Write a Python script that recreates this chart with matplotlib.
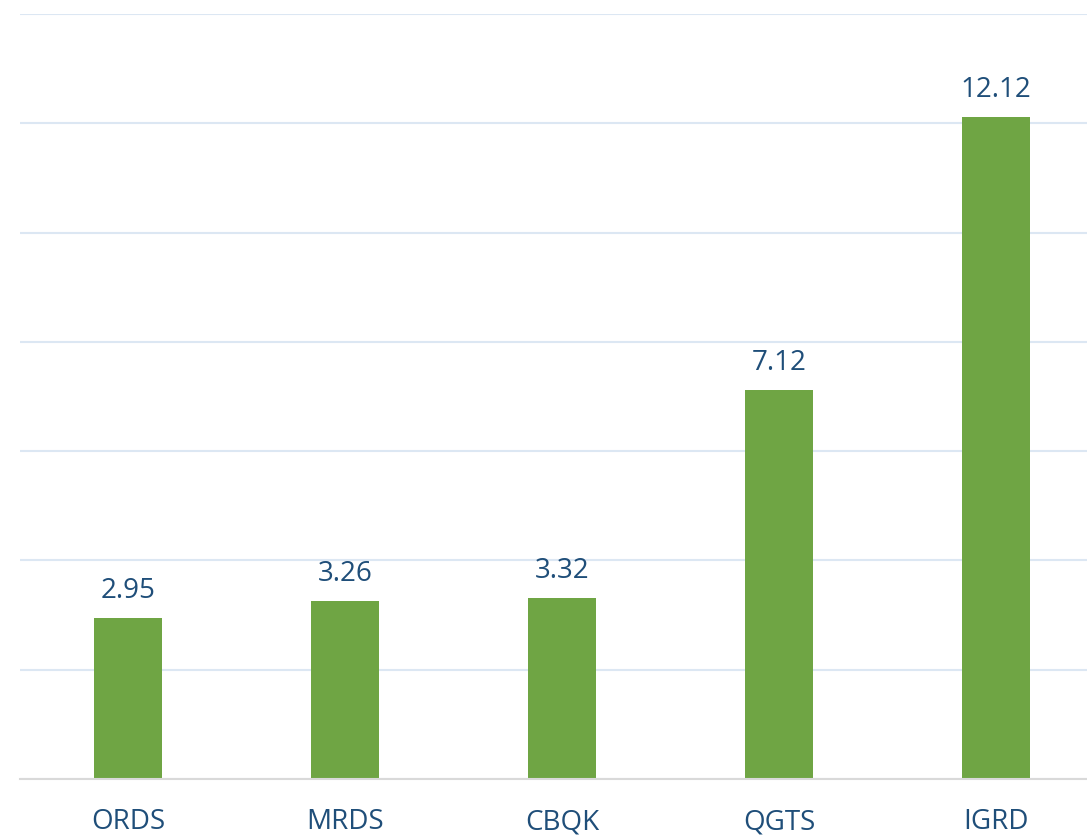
import matplotlib
matplotlib.use('Agg')
import matplotlib.pyplot as plt

# Chart data
categories = ['ORDS', 'MRDS', 'CBQK', 'QGTS', 'IGRD']
values = [2.95, 3.26, 3.32, 7.12, 12.12]

bar_color = '#6FA544'
text_color = '#1F4E79'
grid_color = '#DCE7F3'

plt.rcParams['font.family'] = ['Open Sans', 'DejaVu Sans']

fig = plt.figure(figsize=(10.87, 8.36), dpi=100)
# axes spans past the right edge, like the cropped original
left = 19.5 / 1087
right = 1104.5 / 1087
bottom = (836 - 779) / 836
top = (836 - 14) / 836
ax = fig.add_axes([left, bottom, right - left, top - bottom])

x = range(len(categories))
bars = ax.bar(x, values, width=0.313, color=bar_color, zorder=3)

ax.set_xlim(-0.5, len(categories) - 0.5)
ax.set_ylim(0, 14)
ax.set_yticks(range(0, 15, 2))
ax.yaxis.grid(True, color=grid_color, linewidth=1.5, zorder=0)
ax.tick_params(axis='y', left=False, labelleft=False)
ax.set_xticks(list(x))
ax.set_xticklabels(categories, fontsize=20, color=text_color)
ax.tick_params(axis='x', length=0, pad=21)

for side in ['top', 'right', 'left']:
    ax.spines[side].set_visible(False)
ax.spines['bottom'].set_color('#D9D9D9')
ax.spines['bottom'].set_linewidth(1.5)
ax.spines['bottom'].set_zorder(4)

# value labels above bars
for xi, v in zip(x, values):
    ax.annotate(f'{v:.2f}', (xi, v), xytext=(0, 9), textcoords='offset points',
                ha='center', va='bottom', fontsize=20, color=text_color)

plt.savefig('out.png', dpi=100)
